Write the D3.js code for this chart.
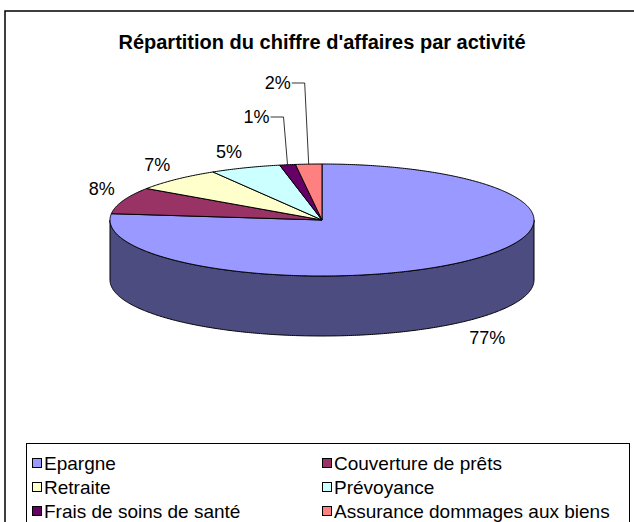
<!DOCTYPE html>
<html>
<head>
<meta charset="utf-8">
<script src="https://cdn.jsdelivr.net/npm/d3@7"></script>
<style>
  body { margin: 0; background: #fff; }
  svg { font-family: "Liberation Sans", Arial, sans-serif; }
</style>
</head>
<body>
<div id="chart"></div>
<script>
const title = "Répartition du chiffre d'affaires par activité"
const categories = ['Epargne', 'Couverture de prêts', 'Retraite', 'Prévoyance', 'Frais de soins de santé', 'Assurance dommages aux biens']
const values = [76.8, 7.7, 6.9, 5.4, 1.2, 2.0]
const colors = ['#9999ff', '#993366', '#ffffcc', '#ccffff', '#660066', '#ff8080']
const sideColors = ['#4c4c80', '#4d1a33', '#808066', '#668080', '#330033', '#804040']

const w = 634, h = 522
const cx = 322, cy = 220, rx = 212, ry = 56, depth = 60

const svg = d3.select('#chart').append('svg')
  .attr('width', w)
  .attr('height', h)

// outer chart frame (runs off the right and bottom)
svg.append('rect')
  .attr('x', 5).attr('y', 11)
  .attr('width', 700).attr('height', 600)
  .attr('fill', 'none')
  .attr('stroke', '#000')
  .attr('stroke-width', 1.5)

svg.append('text')
  .attr('x', cx).attr('y', 49)
  .attr('text-anchor', 'middle')
  .attr('font-weight', 'bold')
  .attr('font-size', 20)
  .text(title)

const arcs = d3.pie().sort(null).value(d => d)(values)

const pt = (a, dy = 0) => [cx + rx * Math.sin(a), cy - ry * Math.cos(a) + dy]
const line = d3.line()

const arcPoints = (a0, a1, dy = 0) => {
  const n = Math.max(2, Math.ceil((a1 - a0) / 0.01))
  return d3.range(n + 1).map(i => pt(a0 + (a1 - a0) * i / n, dy))
}

// side wall, only the front half (pi/2 .. 3pi/2) can be seen
const pie3d = svg.append('g')
arcs.forEach((d, i) => {
  const a0 = Math.max(d.startAngle, Math.PI / 2)
  const a1 = Math.min(d.endAngle, Math.PI * 3 / 2)
  if (a1 <= a0) return
  const pts = arcPoints(a0, a1).concat(arcPoints(a0, a1, depth).reverse())
  pie3d.append('path')
    .attr('d', line(pts) + 'Z')
    .attr('fill', sideColors[i])
    .attr('stroke', '#000')
    .attr('stroke-width', 1)
})

// top face
pie3d.selectAll('path.top')
  .data(arcs)
  .join('path')
    .attr('class', 'top')
    .attr('d', d => line([[cx, cy]].concat(arcPoints(d.startAngle, d.endAngle))) + 'Z')
    .attr('fill', (d, i) => colors[i])
    .attr('stroke', '#000')
    .attr('stroke-width', 1)
    .attr('stroke-linejoin', 'round')

// data labels
const fmt = d => Math.round(d.value) + '%'
const labels = svg.append('g').attr('font-size', 18).attr('fill', '#000')
let small = 0
arcs.forEach(d => {
  const mid = (d.startAngle + d.endAngle) / 2
  const s = Math.sin(mid), c = Math.cos(mid)
  if (d.value >= 3) {
    const x = cx + (rx + 9) * s
    const y = cy - (ry + 8) * c + (c < 0 ? depth + 10 : -9)
    labels.append('text')
      .attr('x', x).attr('y', y)
      .attr('dy', '0.35em')
      .attr('text-anchor', s < 0 ? 'end' : 'start')
      .text(fmt(d))
  } else {
    const [ax, ay] = pt(mid)
    const ly = cy - ry - 47 - 34 * small
    small++
    labels.append('path')
      .attr('d', line([[ax - 17, ly], [ax - 4, ly], [ax, ay]]))
      .attr('fill', 'none')
      .attr('stroke', '#000')
      .attr('stroke-width', 0.8)
    labels.append('text')
      .attr('x', ax - 18).attr('y', ly)
      .attr('dy', '0.35em')
      .attr('text-anchor', 'end')
      .text(fmt(d))
  }
})

// legend
const legend = svg.append('g')
legend.append('rect')
  .attr('x', 26.5).attr('y', 443.5)
  .attr('width', 603).attr('height', 120)
  .attr('fill', 'none')
  .attr('stroke', '#000')
  .attr('stroke-width', 1)

const item = legend.selectAll('g')
  .data(categories)
  .join('g')
    .attr('transform', (d, i) => `translate(${i % 2 ? 322 : 32}, ${463 + Math.floor(i / 2) * 24})`)

item.append('rect')
  .attr('x', 0.5).attr('y', -4.5)
  .attr('width', 9).attr('height', 9)
  .attr('fill', (d, i) => colors[i])
  .attr('stroke', '#000')
  .attr('stroke-width', 1)

item.append('text')
  .attr('x', 12).attr('dy', '0.35em')
  .attr('font-size', 19)
  .text(d => d)
</script>
</body>
</html>
